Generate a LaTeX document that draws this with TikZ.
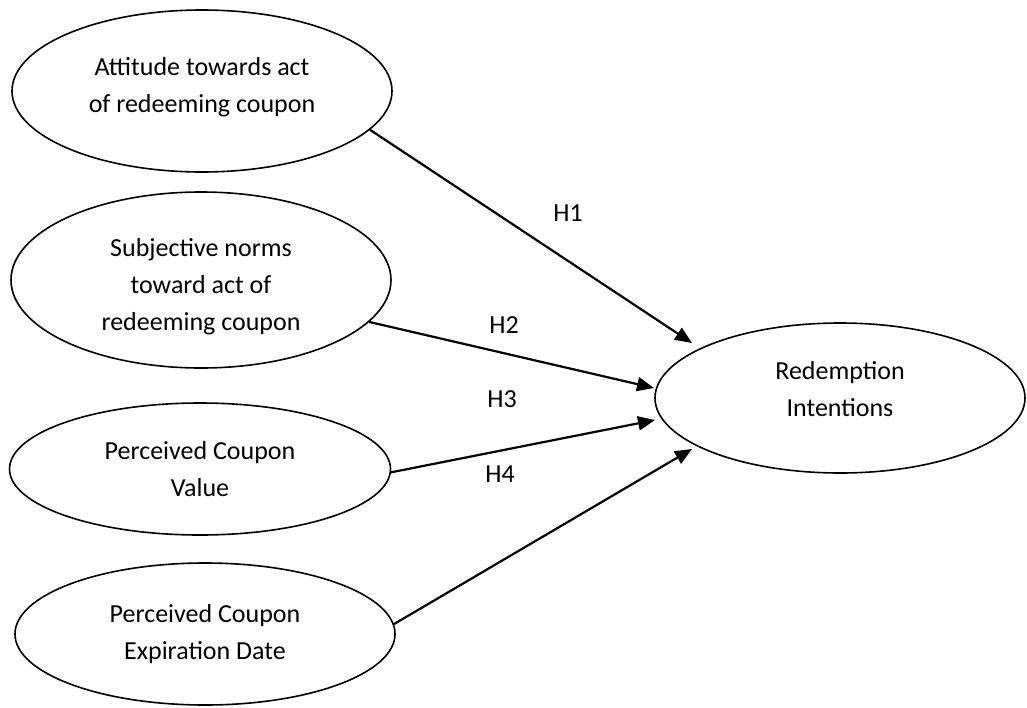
\documentclass[tikz,border=0pt]{standalone}
\usepackage{fontspec}
\setmainfont{Carlito}
\usetikzlibrary{arrows.meta,shapes.geometric}
\begin{document}
\begin{tikzpicture}[x=1pt,y=-1pt,
  var/.style={draw, ellipse, line width=1.6pt, inner sep=0pt, align=center,
    font=\fontsize{26}{37}\selectfont},
  hyp/.style={-{Triangle[length=17pt,width=14pt]}, line width=2.2pt},
  hlab/.style={font=\fontsize{26}{37}\selectfont, inner sep=0pt}]
\useasboundingbox (0,0) rectangle (1027,707);
\node[var, minimum width=380pt, minimum height=162pt] (att) at (202,91) {Attitude towards act\\of redeeming coupon\\[-25pt]\mbox{}};
\node[var, minimum width=380pt, minimum height=176pt] (sub) at (201,280) {Subjective norms\\toward act of\\redeeming coupon\\[-45pt]\mbox{}};
\node[var, minimum width=381pt, minimum height=132pt] (pcv) at (200,469) {Perceived Coupon\\Value};
\node[var, minimum width=380pt, minimum height=142pt] (ped) at (205,634) {Perceived Coupon\\Expiration Date};
\node[var, minimum width=370pt, minimum height=150pt] (ri) at (840,398) {Redemption\\Intentions\\[-18pt]\mbox{}};
\coordinate (t1) at (692,343);
\coordinate (t2) at (654,388);
\coordinate (t3) at (655,420);
\coordinate (t4) at (692,449);
\draw[hyp] (att.-13) -- (t1);
\draw[hyp] (sub.-14.5) -- (t2);
\draw[hyp] (pcv.-1) -- (t3);
\draw[hyp] (ped.3.4) -- (t4);
\node[hlab] (h1) at (568,213) {H1};
\node[hlab] (h2) at (504,325) {H2};
\node[hlab] (h3) at (502,399) {H3};
\node[hlab] (h4) at (500,474) {H4};
\end{tikzpicture}
\end{document}
